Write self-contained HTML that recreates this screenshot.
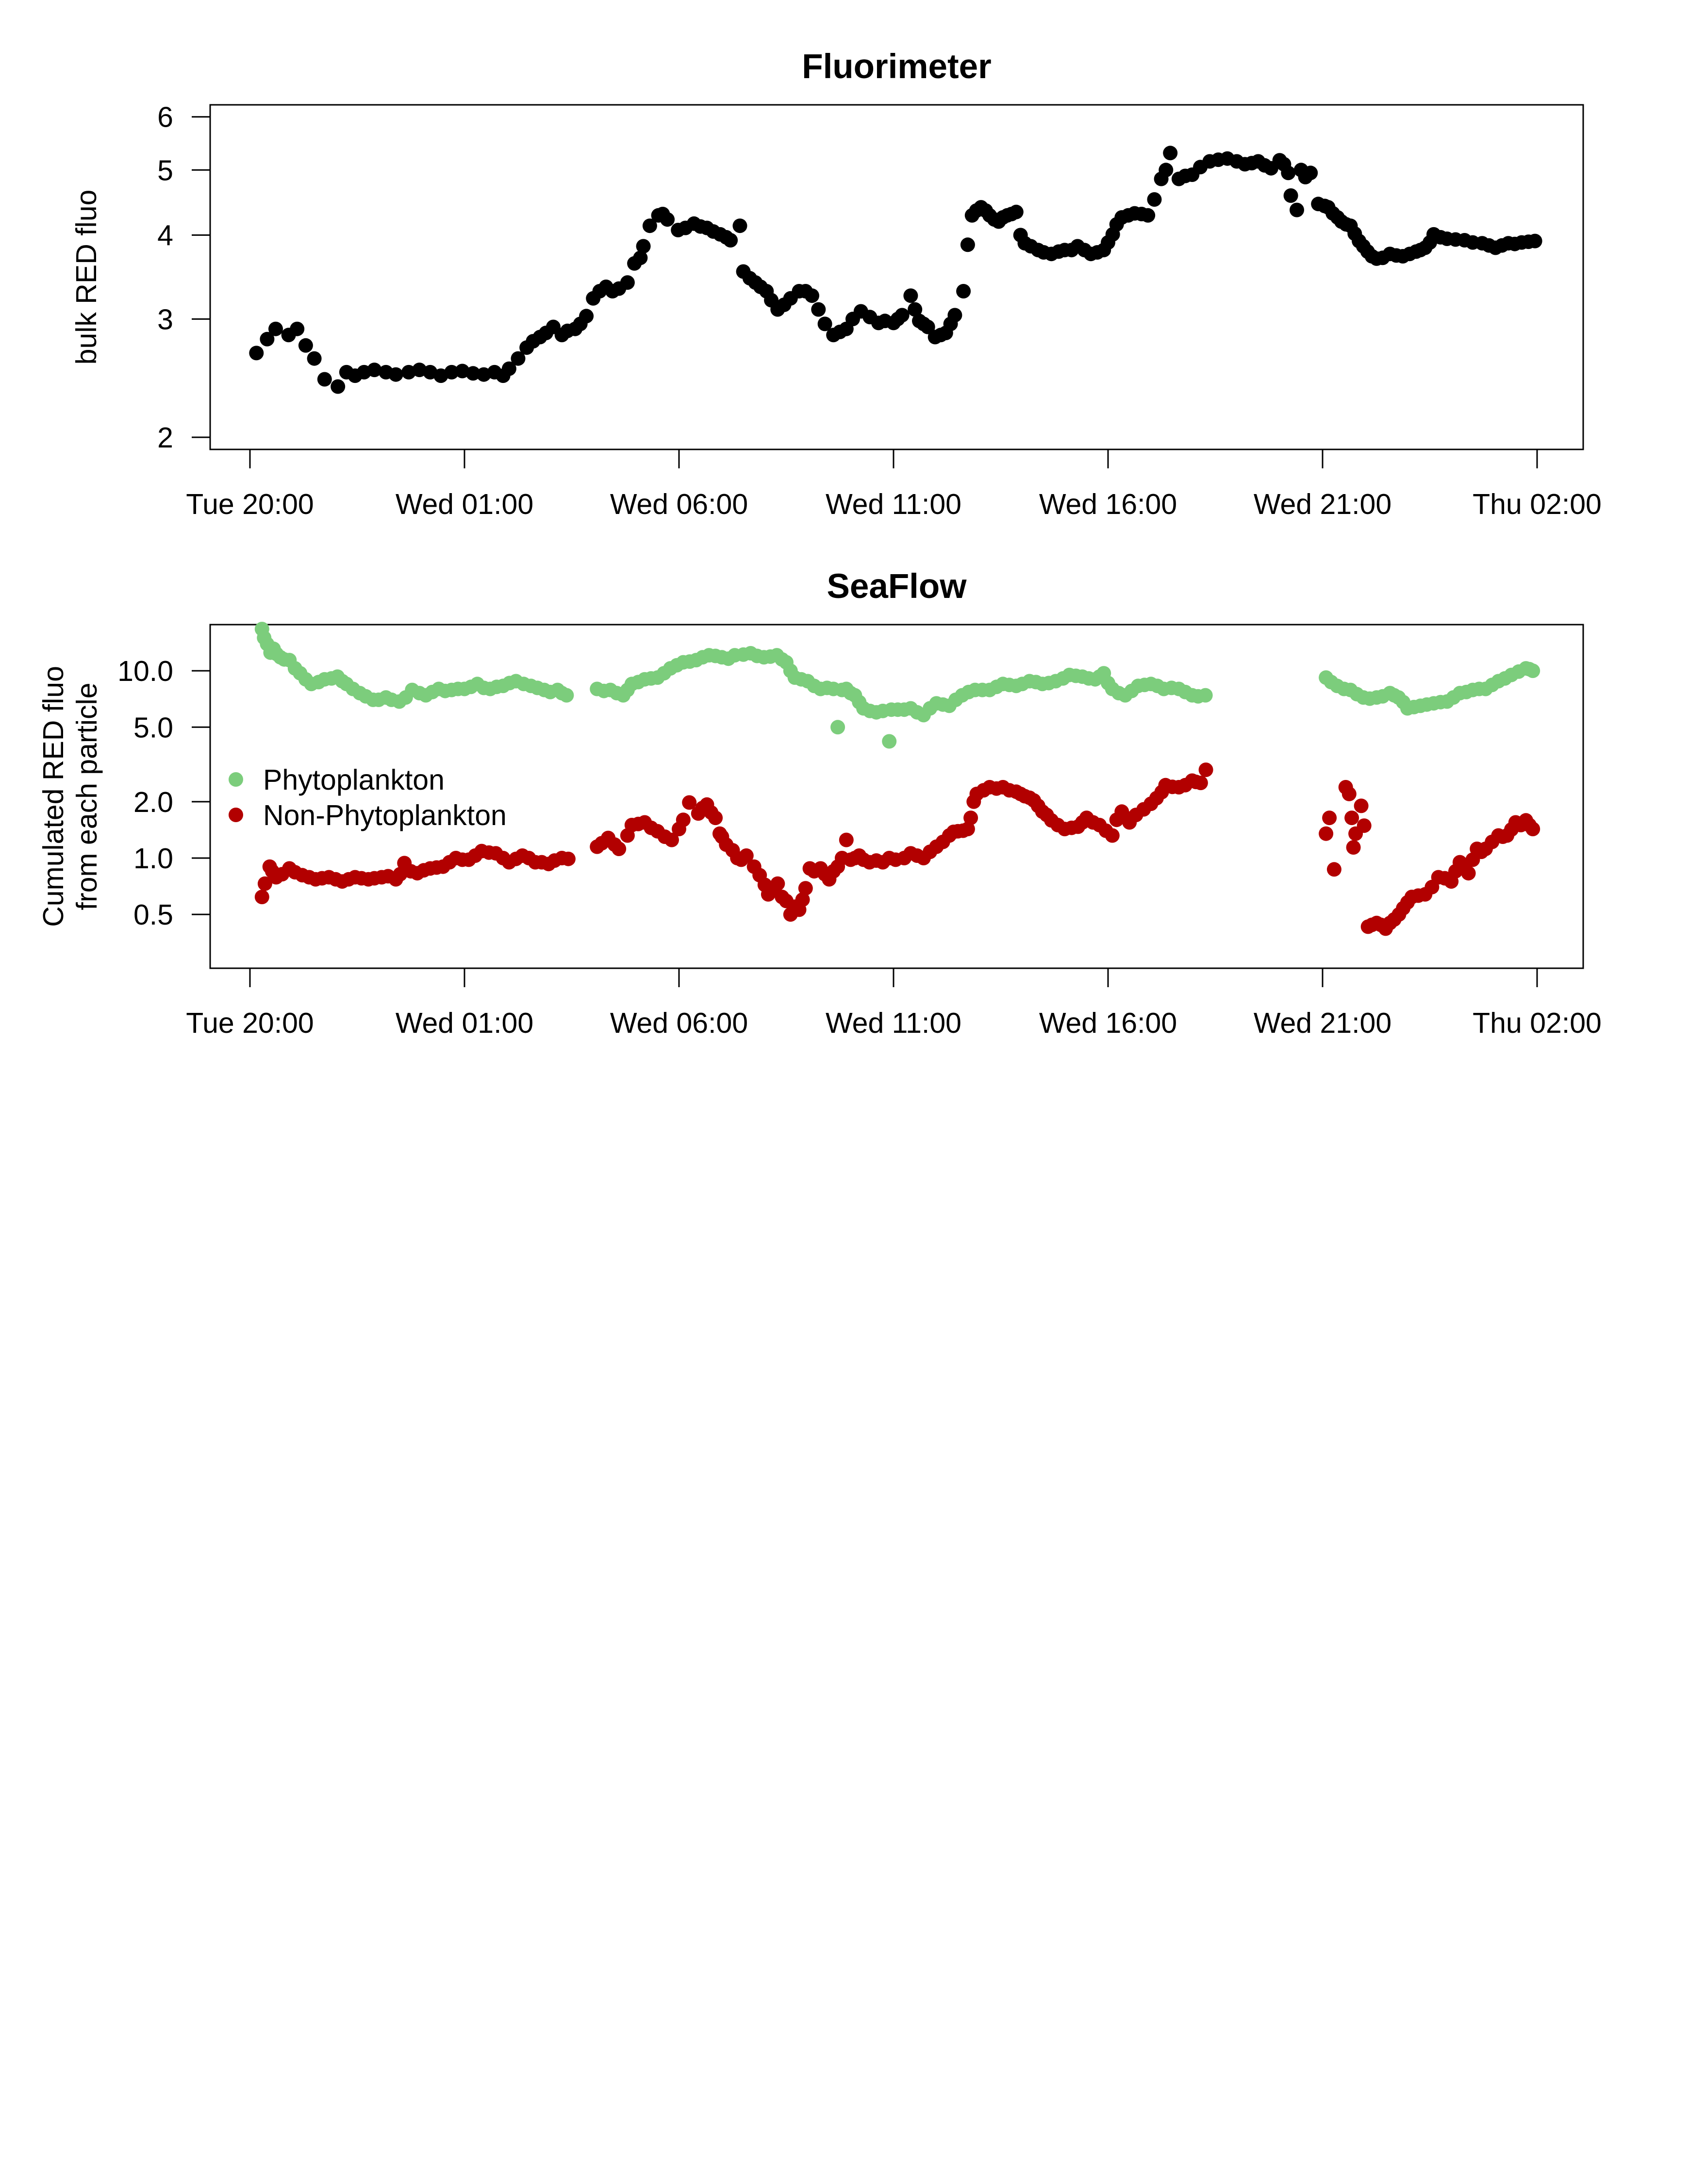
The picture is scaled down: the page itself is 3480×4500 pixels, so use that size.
<!DOCTYPE html>
<html><head><meta charset="utf-8"><title>Fluorimeter and SeaFlow</title>
<style>
html,body{margin:0;padding:0;background:#fff;}
svg{display:block;font-family:"Liberation Sans",Arial,sans-serif;}
</style></head>
<body>
<svg id="chart" xmlns="http://www.w3.org/2000/svg" width="3480" height="4500" viewBox="0 0 3480 4500">
<rect x="0" y="0" width="3480" height="4500" fill="#fff"/>
</svg>
<script>
// ---- Data: hours since Tue 20:00 ----
const xTickLabels = ["Tue 20:00","Wed 01:00","Wed 06:00","Wed 11:00","Wed 16:00","Wed 21:00","Thu 02:00"];
const xTickHours = [0,5,10,15,20,25,30];

const fluoTimes = [0.15,0.4,0.6,0.9,1.1,1.3,1.5,1.74,2.05,2.25,2.66,3.17,3.7,4.2,4.7,5.2,5.7,6.04,6.25,6.45,6.76,7.07,7.27,7.58,7.84,8.0,8.3,8.6,8.8,8.96,9.17,9.32,9.52,9.73,9.98,10.35,10.65,10.96,11.2,11.42,11.5,11.78,12.04,12.3,12.6,12.8,13.1,13.4,13.6,13.9,14.24,14.65,15.0,15.2,15.4,15.6,15.8,15.97,16.22,16.43,16.63,16.73,16.83,17.04,17.24,17.45,17.65,17.86,18.06,18.37,18.68,18.99,19.29,19.6,19.9,20.11,20.32,20.62,20.93,21.08,21.24,21.45,21.65,21.96,22.37,22.78,23.19,23.5,23.8,24.0,24.2,24.26,24.4,24.6,24.72,24.9,25.13,25.24,25.44,25.65,25.85,26.05,26.26,26.57,26.87,27.18,27.39,27.59,27.9,28.31,28.72,29.03,29.33,29.64,29.95,
 2.45,2.9,3.4,3.95,4.45,4.95,5.45,5.9,6.6,6.9,7.4,7.7,8.15,8.45,9.1,9.62,10.15,10.5,10.8,11.1,11.65,11.9,12.15,12.45,12.95,13.25,13.75,14.05,14.45,14.8,15.1,15.5,15.7,16.1,16.33,16.93,17.15,17.35,17.55,17.75,17.96,18.2,18.5,18.85,19.15,19.45,19.75,20.0,20.2,20.47,20.78,21.35,21.8,22.15,22.57,23.0,23.35,23.65,24.1,24.5,25.05,25.35,25.55,25.75,25.95,26.15,26.4,26.72,27.03,27.28,27.5,27.75,28.1,28.5,28.88,29.18,29.48,29.8];
const fluoValues = [2.67,2.80,2.90,2.84,2.90,2.74,2.62,2.44,2.38,2.50,2.50,2.50,2.50,2.50,2.50,2.49,2.50,2.53,2.62,2.72,2.82,2.92,2.84,2.90,3.03,3.22,3.35,3.33,3.40,3.63,3.85,4.13,4.28,4.22,4.07,4.16,4.10,4.01,3.93,4.13,3.53,3.40,3.30,3.10,3.22,3.30,3.25,2.95,2.84,2.90,3.08,2.96,2.96,3.04,3.25,2.98,2.92,2.82,2.86,3.04,3.30,3.87,4.28,4.40,4.28,4.19,4.28,4.33,3.89,3.80,3.75,3.80,3.85,3.75,3.80,4.01,4.25,4.31,4.28,4.52,4.85,5.30,4.85,4.92,5.15,5.20,5.10,5.15,5.03,5.17,4.95,4.58,4.36,4.88,4.95,4.45,4.40,4.31,4.19,4.13,3.92,3.78,3.69,3.75,3.72,3.78,3.83,4.01,3.95,3.93,3.89,3.83,3.89,3.90,3.92,
 2.47,2.52,2.48,2.52,2.47,2.51,2.48,2.47,2.78,2.86,2.88,2.95,3.30,3.30,3.70,4.30,4.10,4.12,4.05,3.97,3.45,3.35,3.20,3.15,3.30,3.10,2.87,3.00,3.02,2.98,3.00,3.10,2.95,2.84,2.95,4.35,4.35,4.22,4.25,4.30,4.00,3.85,3.77,3.78,3.80,3.80,3.77,3.90,4.15,4.28,4.30,5.00,4.90,5.05,5.18,5.15,5.12,5.08,5.10,5.00,4.42,4.25,4.15,4.02,3.85,3.72,3.70,3.73,3.75,3.80,3.90,3.97,3.94,3.90,3.86,3.86,3.88,3.91];

const phytoTimes = [0.28,0.4,0.55,0.71,0.92,1.17,1.43,1.74,2.04,2.25,2.56,2.87,3.17,3.48,3.78,4.1,4.4,4.7,5.0,5.3,5.6,5.9,6.2,6.55,6.86,7.17,7.38,8.09,8.4,8.7,8.9,9.2,9.5,9.8,10.1,10.4,10.7,11.0,11.3,11.67,11.98,12.28,12.5,12.7,13.0,13.3,13.6,13.7,13.9,14.1,14.3,14.6,14.9,14.95,15.1,15.4,15.7,16.0,16.3,16.6,16.9,17.24,17.55,17.86,18.17,18.47,18.78,19.1,19.4,19.7,19.9,20.1,20.4,20.7,21.0,21.3,21.65,21.96,22.27,25.08,25.34,25.65,25.95,26.26,26.57,26.77,26.98,27.28,27.59,27.9,28.2,28.5,28.8,29.1,29.4,29.74,29.9,
 0.33,0.48,0.62,0.8,1.05,1.3,1.6,1.9,2.15,2.4,2.7,3.0,3.3,3.63,3.95,4.25,4.55,4.85,5.15,5.45,5.75,6.05,6.38,6.7,7.0,7.27,8.25,8.55,8.8,9.05,9.35,9.65,9.95,10.25,10.55,10.85,11.15,11.5,11.82,12.13,12.4,12.6,12.85,13.15,13.45,13.8,14.0,14.2,14.45,14.75,15.25,15.55,15.85,16.15,16.45,16.75,17.07,17.4,17.7,18.0,18.32,18.62,18.95,19.25,19.55,19.8,20.0,20.25,20.55,20.85,21.15,21.48,21.8,22.1,25.2,25.5,25.8,26.1,26.4,26.67,26.88,27.13,27.43,27.75,28.05,28.35,28.65,28.95,29.25,29.57,29.82];
const phytoValues = [16.7,13.9,13.1,11.8,11.4,9.7,8.5,9.0,9.3,8.5,7.6,7.0,7.2,6.85,7.9,7.4,8.0,7.9,8.0,8.5,8.0,8.3,8.8,8.3,7.9,7.9,7.4,8.0,7.9,7.4,8.5,9.0,9.2,10.3,11.1,11.4,12.1,11.8,12.1,12.4,11.8,12.1,11.1,9.2,8.8,8.0,8.0,5.0,8.0,7.4,6.3,6.0,4.2,6.2,6.2,6.3,5.8,6.7,6.5,7.4,7.9,7.9,8.5,8.3,8.8,8.5,8.8,9.5,9.3,9.0,9.7,8.0,7.4,8.3,8.5,8.0,8.0,7.4,7.4,9.2,8.3,7.9,7.2,7.2,7.6,7.2,6.3,6.5,6.7,6.85,7.6,7.9,8.0,8.8,9.5,10.3,10.0,
 15.0,12.5,12.3,11.5,10.3,9.0,8.7,9.1,8.8,8.0,7.3,7.0,7.0,7.2,7.6,7.7,7.8,8.0,8.2,8.1,8.2,8.6,8.5,8.1,7.7,7.6,7.8,7.6,7.9,8.7,9.1,9.7,10.7,11.2,11.8,12.0,11.6,12.2,12.0,11.9,11.5,10.0,9.0,8.3,8.1,7.9,7.6,6.8,6.1,6.1,6.2,6.0,6.3,6.6,7.0,7.7,7.9,8.2,8.4,8.5,8.7,8.6,9.1,9.4,9.1,9.3,8.6,7.6,7.8,8.4,8.3,8.1,7.7,7.3,8.7,8.0,7.5,7.1,7.3,7.4,6.8,6.4,6.6,6.8,7.2,7.7,8.0,8.4,9.1,9.9,10.2];

const nonPhytoTimes = [0.28,0.35,0.46,0.61,0.92,1.22,1.53,1.84,2.15,2.45,2.76,3.07,3.4,3.6,3.9,4.2,4.5,4.8,5.1,5.4,5.73,6.04,6.35,6.65,6.96,7.27,7.42,8.09,8.35,8.6,8.8,8.9,9.2,9.5,9.83,10.0,10.24,10.45,10.65,10.85,10.95,11.1,11.36,11.57,11.88,12.08,12.3,12.5,12.6,12.8,12.95,13.05,13.3,13.5,13.7,13.9,14.0,14.2,14.44,14.75,15.05,15.4,15.7,16.0,16.3,16.5,16.73,16.8,16.94,17.24,17.55,17.86,18.06,18.27,18.47,18.68,18.99,19.3,19.5,19.8,20.1,20.32,20.5,20.83,21.13,21.34,21.65,21.96,22.16,22.28,25.08,25.16,25.27,25.54,25.62,25.68,25.72,25.77,25.9,25.97,26.06,26.26,26.47,26.67,26.88,27.08,27.39,27.7,28.0,28.2,28.4,28.6,28.8,29.1,29.3,29.5,29.74,29.9,
 0.52,0.75,1.05,1.38,1.68,2.0,2.3,2.6,2.9,3.22,3.5,3.75,4.05,4.35,4.65,4.95,5.25,5.57,5.9,6.2,6.5,6.8,7.1,8.2,8.5,9.05,9.35,9.67,10.1,10.55,10.75,11.0,11.25,11.45,11.75,12.0,12.2,12.4,12.7,12.88,13.15,13.4,13.6,13.8,14.1,14.3,14.6,14.9,15.25,15.55,15.85,16.15,16.4,16.62,16.87,17.1,17.4,17.7,17.96,18.17,18.37,18.57,18.83,19.15,19.4,19.65,19.95,20.2,20.4,20.65,21.0,21.25,21.5,21.8,22.05,26.15,26.36,26.57,26.78,26.98,27.23,27.55,27.85,28.1,28.3,28.5,28.7,28.95,29.2,29.4,29.62,29.82];
const nonPhytoValues = [0.62,0.73,0.90,0.79,0.88,0.81,0.77,0.79,0.75,0.79,0.77,0.79,0.77,0.94,0.83,0.88,0.90,1.00,0.98,1.09,1.06,0.95,1.03,0.95,0.93,1.00,0.99,1.15,1.28,1.12,1.32,1.50,1.55,1.39,1.25,1.43,1.98,1.73,1.93,1.64,1.35,1.18,1.00,1.03,0.81,0.64,0.73,0.59,0.50,0.53,0.69,0.88,0.88,0.77,0.90,1.25,0.98,1.03,0.95,0.95,0.98,1.06,1.00,1.15,1.32,1.39,1.43,1.64,2.20,2.39,2.39,2.26,2.14,2.03,1.77,1.59,1.43,1.47,1.64,1.50,1.32,1.77,1.55,1.82,2.09,2.45,2.39,2.59,2.52,2.96,1.35,1.64,0.87,2.39,2.20,1.64,1.14,1.35,1.90,1.49,0.43,0.45,0.42,0.47,0.54,0.62,0.64,0.79,0.75,0.95,0.83,1.12,1.12,1.32,1.32,1.55,1.59,1.43,
 0.85,0.82,0.84,0.79,0.78,0.77,0.77,0.78,0.78,0.80,0.82,0.85,0.86,0.89,0.95,0.98,1.03,1.07,1.00,0.99,1.00,0.95,0.97,1.20,1.18,1.52,1.45,1.30,1.60,1.85,1.75,1.30,1.10,0.98,0.90,0.72,0.68,0.62,0.55,0.60,0.85,0.82,0.85,1.00,1.00,0.98,0.97,1.00,1.00,1.03,1.08,1.22,1.38,1.40,2.00,2.30,2.35,2.30,2.20,2.10,1.90,1.70,1.50,1.45,1.55,1.55,1.40,1.60,1.65,1.70,1.95,2.25,2.40,2.45,2.55,0.44,0.44,0.45,0.50,0.58,0.63,0.70,0.78,0.85,0.90,0.98,1.08,1.22,1.30,1.42,1.50,1.50];

const fluoYTicks = [2,3,4,5,6];
const fluoYTickLabels = ["2","3","4","5","6"];
const seaYTicks = [0.5,1,2,5,10];
const seaYTickLabels = ["0.5","1.0","2.0","5.0","10.0"];

// ---- Layout ----
const NS = "http://www.w3.org/2000/svg";
const svg = document.getElementById('chart');
const LEFT = 433, RIGHT = 3262;
const X0 = 515, PXH = 88.4;
const FS = 59;
const R = 15;
function xScale(h){ return X0 + h*PXH; }
function mk(tag, attrs, parent){ const e=document.createElementNS(NS,tag); for(const k in attrs) e.setAttribute(k,attrs[k]); (parent||svg).appendChild(e); return e; }
function logScale(refVal, refY, pxPerLn){ return v => refY - Math.log(v/refVal)*pxPerLn; }

function drawPanel(opt){
  const g = mk('g',{});
  
  
  const t = mk('text',{x:(LEFT+RIGHT)/2,y:opt.top-55,'text-anchor':'middle','font-size':71,'font-weight':'bold',fill:'#000'},g);
  t.textContent = opt.title;
  
  
  const box = mk('rect',{x:LEFT,y:opt.top,width:RIGHT-LEFT,height:opt.bottom-opt.top,fill:'none',stroke:'#000','stroke-width':3},g);
  
  
  const xa = mk('g',{},g);
  
  
  mk('line',{x1:xScale(xTickHours[0]),x2:xScale(xTickHours[xTickHours.length-1]),y1:opt.bottom,y2:opt.bottom,stroke:'#000','stroke-width':3},xa);
  xTickHours.forEach((h,i)=>{
    const tk = mk('line',{x1:xScale(h),x2:xScale(h),y1:opt.bottom,y2:opt.bottom+39,stroke:'#000','stroke-width':3},xa);
    
    
    const lb = mk('text',{x:xScale(h),y:opt.bottom+133,'text-anchor':'middle','font-size':FS,fill:'#000'},xa);
    lb.textContent = xTickLabels[i];
    
    
  });
  const ya = mk('g',{},g);
  
  
  const ys = opt.yTicks.map(opt.y);
  mk('line',{x1:LEFT,x2:LEFT,y1:Math.min(...ys),y2:Math.max(...ys),stroke:'#000','stroke-width':3},ya);
  opt.yTicks.forEach((v,i)=>{
    const yy = opt.y(v);
    const tk = mk('line',{x1:LEFT-38,x2:LEFT,y1:yy,y2:yy,stroke:'#000','stroke-width':3},ya);
    
    
    const lb = mk('text',{x:357,y:yy+21,'text-anchor':'end','font-size':FS,fill:'#000'},ya);
    lb.textContent = opt.yLabels[i];
    
    
  });
  const cy = (opt.top+opt.bottom)/2;
  opt.yTitle.forEach((line,i)=>{
    const xx = opt.yTitleX[i];
    const yt = mk('text',{x:xx,y:cy,'text-anchor':'middle','font-size':FS,fill:'#000',transform:`rotate(-90 ${xx} ${cy})`},ya);
    yt.textContent = line;
    
    
  });
  return g;
}

function drawPoints(times, vals, yfn, color, name){
  const g = mk('g',{fill:color});
  
  
  times.forEach((h,i)=>{
    const c = mk('circle',{cx:xScale(h).toFixed(1),cy:yfn(vals[i]).toFixed(1),r:R},g);
    
    
  });
}

const P1 = {top:216,bottom:926};
const y1 = logScale(2, 901, 601);
drawPanel({name:'fluorimeter',title:'Fluorimeter',top:P1.top,bottom:P1.bottom,y:y1,yTicks:fluoYTicks,yLabels:fluoYTickLabels,yTitle:['bulk RED fluo'],yTitleX:[198]});
drawPoints(fluoTimes, fluoValues, y1, '#000', 'fluorimeter');

const P2 = {top:1287,bottom:1995};
const y2 = logScale(1, 1768, 167.6);
drawPanel({name:'seaflow',title:'SeaFlow',top:P2.top,bottom:P2.bottom,y:y2,yTicks:seaYTicks,yLabels:seaYTickLabels,yTitle:['Cumulated RED fluo','from each particle'],yTitleX:[130,199]});
drawPoints(phytoTimes, phytoValues, y2, '#7CCD7C', 'phytoplankton');
drawPoints(nonPhytoTimes, nonPhytoValues, y2, '#B20000', 'non-phytoplankton');

const lg = mk('g',{});


[['Phytoplankton','#7CCD7C',1606],['Non-Phytoplankton','#B20000',1679]].forEach(([lab,col,yy])=>{
  const e = mk('g',{},lg);
  
  
  mk('circle',{cx:486,cy:yy,r:R,fill:col},e);
  const t = mk('text',{x:542,y:yy+21,'font-size':FS,fill:'#000'},e);
  t.textContent = lab;
});
</script>
</body></html>
